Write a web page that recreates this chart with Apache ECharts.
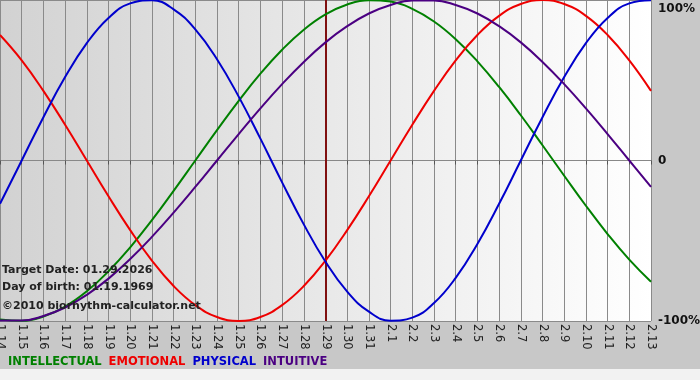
<!DOCTYPE html>
<html>
<head>
<meta charset="utf-8">
<script src="https://cdn.jsdelivr.net/npm/echarts@6/dist/echarts.min.js"></script>
<style>
html,body{margin:0;padding:0;background:#c8c8c8;}
#chart{width:700px;height:380px;}
</style>
</head>
<body>
<div id="chart"></div>
<script>
var days = ['1.14','1.15','1.16','1.17','1.18','1.19','1.20','1.21','1.22','1.23','1.24','1.25','1.26','1.27','1.28','1.29','1.30','1.31','2.1','2.2','2.3','2.4','2.5','2.6','2.7','2.8','2.9','2.10','2.11','2.12','2.13'];
var intellectual = [-99.0,-99.9,-97.2,-91.0,-81.5,-69.0,-54.1,-37.2,-18.9,0,18.9,37.2,54.1,69.0,81.5,91.0,97.2,99.9,99.0,94.5,86.6,75.6,61.8,45.8,28.2,9.5,-9.5,-28.2,-45.8,-61.8,-75.6];
var emotional = [78.2,62.4,43.4,22.3,0,-22.3,-43.4,-62.4,-78.2,-90.1,-97.5,-100,-97.5,-90.1,-78.2,-62.4,-43.4,-22.3,0,22.3,43.4,62.4,78.2,90.1,97.5,100,97.5,90.1,78.2,62.4,43.4];
var physical = [-27.0,0,27.0,52.0,73.1,88.8,97.9,99.8,94.2,81.7,63.1,39.8,13.6,-13.6,-39.8,-63.1,-81.7,-94.2,-99.8,-97.9,-88.8,-73.1,-52.0,-27.0,0,27.0,52.0,73.1,88.8,97.9,99.8];
var intuitive = [-99.7,-99.7,-96.9,-91.6,-83.7,-73.6,-61.4,-47.6,-32.5,-16.5,0,16.5,32.5,47.6,61.4,73.6,83.7,91.6,96.9,99.7,99.7,96.9,91.6,83.7,73.6,61.4,47.6,32.5,16.5,0,-16.5];
var yTicks = {'-100':'-100%','0':'0','100':'100%'};
var targetDay = '1.29';
var infoLines = ['Target Date: 01.29.2026','Day of birth: 01.19.1969','\u00a92010 biorhythm-calculator.net'];

var colors = {INTELLECTUAL:'#008000', EMOTIONAL:'#ee0000', PHYSICAL:'#0000cc', INTUITIVE:'#4b0082'};
var FONT = 'DejaVu Sans, Verdana, sans-serif';

var chart = echarts.init(document.getElementById('chart'), null, {renderer:'canvas'});

function mkSeries(name, data){
  return {
    name:name, type:'line', data:data, smooth:0.45, symbol:'none',
    lineStyle:{color:colors[name], width:2}, itemStyle:{color:colors[name]},
    z:3
  };
}
var series = [
  mkSeries('INTELLECTUAL', intellectual),
  mkSeries('EMOTIONAL', emotional),
  mkSeries('PHYSICAL', physical),
  mkSeries('INTUITIVE', intuitive)
];
series[0].markLine = {
  silent:true, symbol:'none', label:{show:false},
  lineStyle:{color:'#801010', width:2, type:'solid'},
  data:[{xAxis:targetDay}], z:2
};

var graphics = [
  {type:'rect', left:0, top:369, shape:{width:700, height:11}, style:{fill:'#f2f2f2'}, z:-10, silent:true}
];
var tops = [265, 282, 301];
infoLines.forEach(function(t,i){
  graphics.push({type:'text', left:2, top:tops[i], z:100,
    style:{text:t, fill:'#222', font:'bold 11px ' + FONT}});
});

chart.setOption({
  backgroundColor:'#c8c8c8',
  animation:false,
  grid:{left:0, right:49, top:0, bottom:59, show:true, borderWidth:0, containLabel:false, outerBoundsMode:'none',
    backgroundColor:{type:'linear', x:0, y:0, x2:1, y2:0,
      colorStops:[{offset:0,color:'#d2d2d2'},{offset:1,color:'#ffffff'}]}},
  legend:{
    left:0, top:356, itemWidth:0, itemHeight:0, itemGap:2, icon:'rect',
    selectedMode:false, padding:[0,0,0,3],
    textStyle:{fontFamily:FONT, fontWeight:'bold', fontSize:11.5},
    data:Object.keys(colors).map(function(k){return {name:k, textStyle:{color:colors[k]}};})
  },
  xAxis:{
    type:'category', data:days, boundaryGap:false,
    axisLine:{show:true, lineStyle:{color:'#888', width:1}},
    axisTick:{show:true, length:4, interval:0, lineStyle:{color:'#555'}},
    splitLine:{show:true, interval:0, lineStyle:{color:'#8a8a8a', width:1}},
    axisLabel:{interval:0, rotate:-90, margin:3, fontSize:11.5, color:'#222', fontFamily:FONT}
  },
  yAxis:{
    type:'value', position:'right', min:-100, max:100, interval:100,
    axisLine:{show:false}, axisTick:{show:false},
    splitLine:{show:true, lineStyle:{color:'#8a8a8a', width:1}},
    axisLabel:{margin:7, color:'#111', fontFamily:FONT, fontWeight:'bold', fontSize:12,
      formatter:function(v){ var s = yTicks[String(v)]; return v===100 ? '{t|'+s+'}' : s; },
      rich:{t:{padding:[17,0,0,0], fontFamily:FONT, fontWeight:'bold', fontSize:12, color:'#111'}}}
  },
  graphic:graphics,
  series:series
});
</script>
</body>
</html>
